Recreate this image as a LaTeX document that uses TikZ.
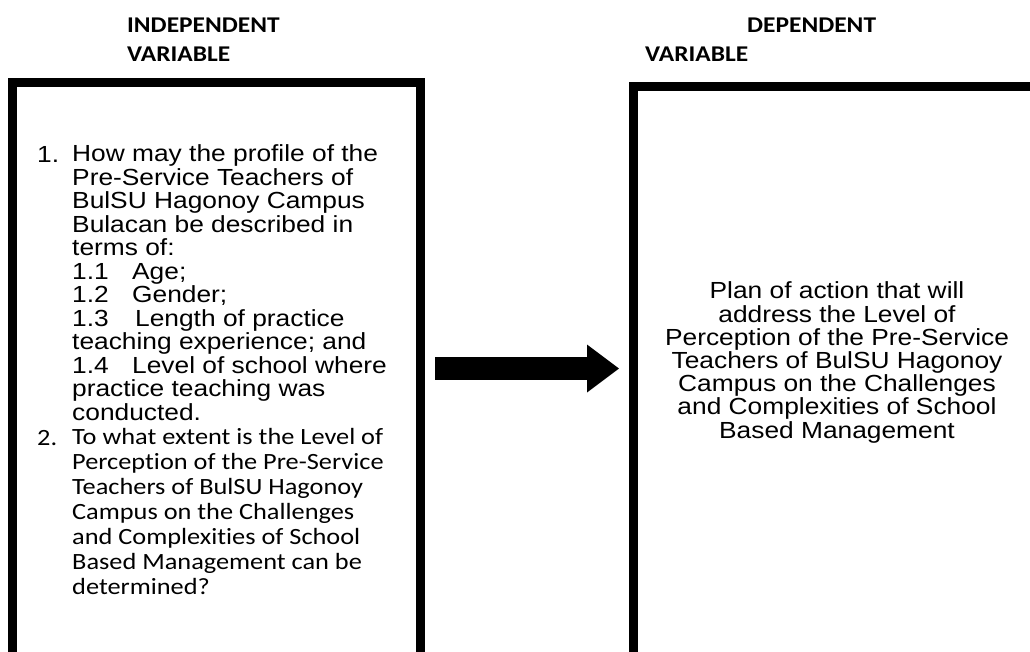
\documentclass[tikz,border=0pt]{standalone}
\usepackage{fontspec}
\setmainfont{Liberation Sans}[FakeStretch=1.13,Ligatures=NoCommon]
\newfontfamily\calibriFont{Carlito}[FakeStretch=1.13,Ligatures=NoCommon]
\usetikzlibrary{arrows.meta}

\begin{document}
\begin{tikzpicture}[x=1pt,y=-1pt,%%
  boxStyle/.style={draw,line width=9pt,outer sep=0pt,inner sep=0pt,%%
    minimum width=408pt,minimum height=620pt,anchor=north west},%%
  headStyle/.style={anchor=base west,inner sep=0pt,%%
    font=\calibriFont\bfseries\fontsize{22.5}{29}\selectfont},%%
  listStyle/.style={anchor=base west,align=left,inner sep=0pt,%%
    font=\fontsize{23.3}{23.5}\selectfont},%%
  calStyle/.style={anchor=base west,align=left,inner sep=0pt,%%
    font=\calibriFont\fontsize{23.3}{25}\selectfont},%%
  outStyle/.style={anchor=base,align=center,inner sep=0pt,%%
    font=\fontsize{23.3}{23.2}\selectfont},%%
  flowArrow/.style={-{Triangle[width=48pt,length=32pt,line width=0pt]},%%
    line width=23pt,shorten <=14.5pt,shorten >=14.5pt}%%
]
\useasboundingbox (0,0) rectangle (1030,651);
%%
%% Places of the parts (text blocks sit on the baseline of their last line).
\coordinate (IndHead) at (127,32);
\coordinate (IndVar) at (127,61);
\coordinate (DepHead) at (747,32);
\coordinate (DepVar) at (645,61);
\coordinate (LeftCorner) at (12.5,82);
\coordinate (RightCorner) at (633.5,86);
\coordinate (ItemOne) at (37,162);
\coordinate (ItemOneText) at (72,420);
\coordinate (ItemTwo) at (37,445);
\coordinate (ItemTwoText) at (72,594);
\coordinate (Outcome) at (837,438);
%%
%% Headings.
\node (indHead) at (IndHead) [headStyle] {INDEPENDENT};
\node (indVar) at (IndVar) [headStyle] {VARIABLE};
\node (depHead) at (DepHead) [headStyle] {DEPENDENT};
\node (depVar) at (DepVar) [headStyle] {VARIABLE};
%%
%% The two boxes.
\node (leftBox) at (LeftCorner) [boxStyle] {};
\node (rightBox) at (RightCorner) [boxStyle] {};
%%
%% Questions in the left box.
\node (oneNum) at (ItemOne) [listStyle] {1.};
\node (oneText) at (ItemOneText) [listStyle] {How may the profile of the\\
  Pre-Service Teachers of\\
  BulSU Hagonoy Campus\\
  Bulacan be described in\\
  terms of:\\
  \makebox[60pt][l]{1.1}Age;\\
  \makebox[60pt][l]{1.2}Gender;\\
  \makebox[63pt][l]{1.3}Length of practice\\
  teaching experience; and\\
  \makebox[60pt][l]{1.4}Level of school where\\
  practice teaching was\\
  conducted.};
\node (twoNum) at (ItemTwo) [calStyle] {2.};
\node (twoText) at (ItemTwoText) [calStyle] {To what extent is the Level of\\
  Perception of the Pre-Service\\
  Teachers of BulSU Hagonoy\\
  Campus on the Challenges\\
  and Complexities of School\\
  Based Management can be\\
  determined?};
%%
%% Outcome in the right box.
\node (outText) at (Outcome) [outStyle] {Plan of action that will\\
  address the Level of\\
  Perception of the Pre-Service\\
  Teachers of BulSU Hagonoy\\
  Campus on the Challenges\\
  and Complexities of School\\
  Based Management};
%%
%% Arrow between the boxes.
\coordinate (arrowTail) at ([yshift=23.5pt]leftBox.east);
\draw[flowArrow] (arrowTail) -- (arrowTail -| rightBox.west);
\end{tikzpicture}
\end{document}
